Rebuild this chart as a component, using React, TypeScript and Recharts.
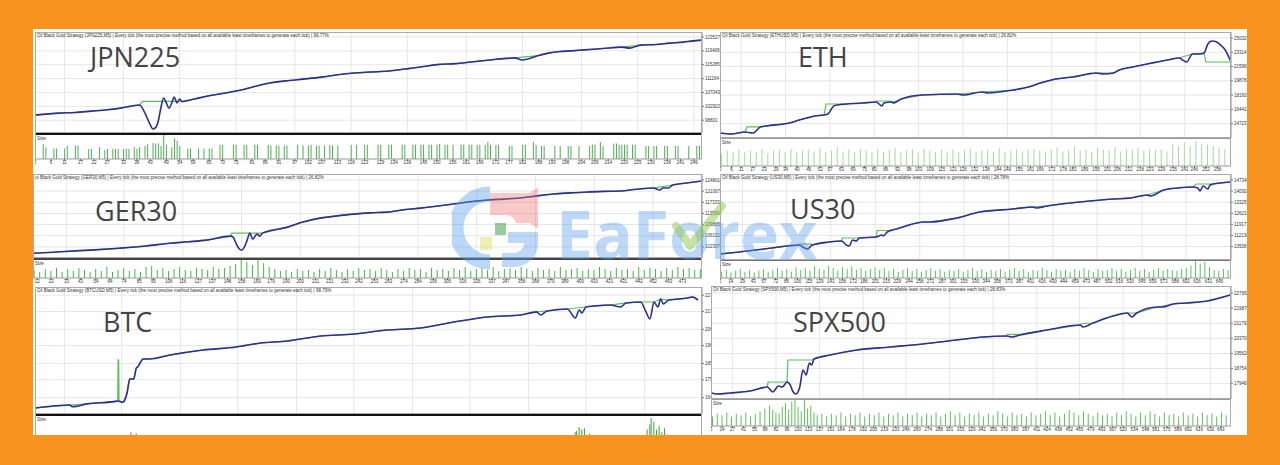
import { ComposedChart, Line, Bar, XAxis, YAxis, CartesianGrid } from "recharts";

type Pt = [number, number];

const ORANGE = "#F7931E";
const NAVY = "#2f2f8f";
const GREEN = "#5cbf5c";
const OX = 33;
const OY = 29;

// JPN225
const jpnBalance: Pt[] = [[0,100300],[9,100900],[15,101100],[21,101500],[27,101900],[32,102400],[39,103300],[41,101000],[43,97500],[44,96200],[45,96600],[46,98500],[47,102500],[48,105400],[49,104000],[50,102400],[51,103800],[52,105700],[53,103900],[54,105100],[55,104300],[56,104500],[60,105200],[64,105900],[69,106600],[76,107600],[82,108800],[88,109900],[95,110600],[100,111000],[107,111600],[113,112300],[119,112800],[125,113100],[132,113400],[138,114000],[144,114600],[150,115300],[157,115600],[163,116100],[170,116700],[175,117100],[179,117300],[182,116700],[184,117000],[188,118000],[192,118800],[196,119200],[200,119400],[205,119700],[212,120100],[219,120500],[222,120200],[226,121100],[232,121300],[237,121700],[242,122000],[245,122300],[249,122600]];
const jpnEquity: Pt[] = [[0,100300],[9,100900],[15,101100],[21,101500],[27,101900],[32,102400],[39,103300],[40,104400],[56,104400],[60,105200],[64,105900],[69,106600],[76,107600],[82,108800],[88,109900],[95,110600],[100,111000],[107,111600],[113,112300],[119,112800],[125,113100],[132,113400],[138,114000],[144,114600],[150,115300],[157,115600],[163,116100],[170,116700],[175,117100],[179,117300],[188,118000],[192,118800],[196,119200],[200,119400],[205,119700],[212,120100],[219,120500],[226,121100],[232,121300],[237,121700],[242,122000],[245,122300],[249,122600]];
const jpnVolume: Pt[] = [[3,57],[4,45],[7,40],[8,40],[11,40],[12,50],[15,52],[16,52],[20,38],[21,38],[24,45],[26,35],[27,38],[29,38],[30,38],[31,38],[33,38],[34,40],[35,38],[37,45],[38,38],[39,45],[41,50],[42,58],[44,62],[45,60],[46,60],[47,50],[48,95],[49,55],[51,45],[52,80],[53,70],[54,50],[57,40],[58,40],[61,40],[63,40],[65,40],[66,40],[69,55],[70,55],[74,55],[75,55],[78,55],[79,55],[82,55],[83,55],[87,55],[88,52],[90,52],[91,52],[93,52],[94,52],[98,55],[100,52],[102,52],[103,55],[105,52],[106,52],[108,52],[110,55],[111,52],[113,52],[118,55],[120,55],[123,55],[124,55],[128,55],[129,55],[132,55],[133,55],[137,55],[138,55],[141,55],[142,55],[144,55],[145,55],[147,55],[148,55],[150,55],[151,58],[153,55],[154,55],[156,55],[159,55],[160,55],[162,55],[163,55],[165,55],[166,55],[168,55],[169,65],[170,55],[172,55],[173,55],[177,50],[178,50],[182,55],[183,55],[186,65],[187,55],[189,50],[190,50],[194,50],[196,50],[199,50],[200,50],[203,50],[207,50],[208,55],[209,55],[211,65],[212,50],[216,60],[217,60],[218,55],[219,55],[220,55],[221,55],[223,55],[224,55],[228,50],[229,50],[231,50],[232,50],[235,50],[236,50],[239,50],[240,50],[244,50],[247,50],[248,50]];
const jpnYTicks = [123527, 119406, 115285, 111164, 107043, 102922, 98801];
const jpnXTicks = [0,6,11,17,22,27,33,38,43,49,54,59,65,70,75,81,86,91,97,102,107,113,118,123,129,134,139,145,150,156,161,166,172,177,182,188,193,198,204,209,214,220,225,230,236,241,246];

// ETH
const ethBalance: Pt[] = [[0,136000],[6,134800],[13,137200],[17,136000],[21,143300],[24,144500],[36,148000],[41,151600],[45,154000],[49,156500],[54,157700],[56,158900],[59,168500],[61,169700],[74,172100],[81,173300],[84,168500],[85,172100],[89,173300],[90,172100],[94,176900],[105,181700],[123,182900],[126,181700],[136,185300],[139,184100],[152,187700],[160,191300],[166,196100],[174,200900],[183,203400],[195,208200],[199,207000],[204,208200],[207,211800],[214,215400],[224,220200],[232,223800],[238,226200],[242,221400],[245,231000],[249,231000],[251,232200],[253,243100],[255,246700],[257,246100],[259,243100],[262,235800],[265,221400]];
const ethEquity: Pt[] = [[0,136000],[6,134800],[13,137200],[14,143300],[21,143300],[24,144500],[36,148000],[41,151600],[45,154000],[49,156500],[54,157700],[55,170900],[61,170900],[74,172100],[80,173300],[81,174500],[88,174500],[90,173300],[94,176900],[105,181700],[123,182900],[136,185300],[152,187700],[160,191300],[166,196100],[174,200900],[183,203400],[195,208200],[204,208200],[207,211800],[214,215400],[224,220200],[232,223800],[238,226200],[245,231000],[251,232200],[252,221400],[265,221400]];
const ethVolume: Pt[] = [[1,45],[4,55],[7,50],[10,60],[13,48],[16,55],[19,50],[22,62],[25,45],[28,55],[31,58],[34,50],[37,62],[40,48],[43,55],[46,60],[49,52],[52,65],[55,50],[58,55],[61,70],[64,52],[67,58],[70,48],[73,62],[76,55],[79,50],[82,60],[85,52],[88,58],[91,64],[94,50],[97,55],[100,60],[103,48],[106,62],[109,55],[112,50],[115,58],[118,52],[121,60],[124,48],[127,56],[130,62],[133,50],[136,55],[139,58],[142,52],[145,64],[148,50],[151,55],[154,60],[157,52],[160,58],[163,62],[166,55],[169,50],[172,60],[175,65],[178,52],[181,58],[184,70],[187,55],[190,60],[193,52],[196,66],[199,58],[202,55],[205,70],[208,52],[211,60],[214,58],[217,65],[220,55],[223,62],[226,58],[229,60],[232,52],[235,78],[238,70],[241,85],[244,72],[247,88],[250,80],[253,75],[256,72],[259,65],[262,60]];
const ethYTicks = [250329, 233147, 215965, 198783, 181601, 164419, 147237];
const ethXTicks = [0,6,11,17,23,29,34,40,46,52,57,63,69,75,80,86,92,98,103,109,115,121,126,132,138,144,149,155,161,166,172,178,183,189,195,201,206,212,218,223,229,235,241,246,252,258];

// GER30
const gerBalance: Pt[] = [[9,100273],[20,100500],[35,100945],[50,101300],[71,101953],[90,102700],[107,103633],[120,104100],[133,104641],[150,105985],[152,105649],[154,103633],[156,101900],[158,101281],[160,102289],[162,104641],[164,106993],[166,104977],[169,106657],[171,105985],[173,106993],[191,109009],[200,110500],[214,112033],[225,112700],[238,113377],[250,113800],[262,114049],[275,114900],[286,115393],[297,116000],[309,116737],[321,117500],[334,118081],[345,118400],[357,118753],[369,119500],[381,120097],[393,120500],[405,120769],[417,121000],[429,121105],[440,121700],[452,122113],[457,121441],[459,122113],[463,122113],[466,123121],[476,123800],[487,124465]];
const gerEquity: Pt[] = [[9,100273],[20,100500],[35,100945],[50,101300],[71,101953],[90,102700],[107,103633],[120,104100],[133,104641],[150,105985],[151,106993],[173,106993],[191,109009],[200,110500],[214,112033],[225,112700],[238,113377],[250,113800],[262,114049],[275,114900],[286,115393],[297,116000],[309,116737],[321,117500],[334,118081],[345,118400],[357,118753],[369,119500],[381,120097],[393,120500],[405,120769],[417,121000],[429,121105],[440,121700],[452,122113],[466,123121],[476,123800],[487,124465]];
const gerVolume: Pt[] = [[10,40],[14,30],[18,45],[22,35],[26,50],[30,30],[34,45],[38,35],[42,50],[46,40],[50,30],[54,45],[58,35],[62,55],[66,30],[70,40],[74,50],[78,35],[82,45],[86,30],[90,55],[94,60],[98,40],[102,50],[106,35],[110,45],[114,55],[118,40],[122,35],[126,50],[130,45],[134,40],[138,55],[142,45],[146,50],[150,60],[154,70],[158,95],[162,80],[166,65],[170,90],[174,75],[178,55],[182,45],[186,35],[190,40],[194,30],[198,45],[202,35],[206,40],[210,30],[214,45],[218,35],[222,50],[226,40],[230,30],[234,45],[238,35],[242,50],[246,40],[250,45],[254,35],[258,50],[262,40],[266,30],[270,45],[274,35],[278,50],[282,40],[286,45],[290,30],[294,50],[298,40],[302,45],[306,35],[310,50],[314,40],[318,55],[322,35],[326,45],[330,50],[334,40],[338,55],[342,35],[346,45],[350,50],[354,40],[358,55],[362,45],[366,35],[370,50],[374,40],[378,45],[382,35],[386,55],[390,40],[394,45],[398,50],[402,35],[406,45],[410,40],[414,55],[418,45],[422,35],[426,50],[430,40],[434,45],[438,35],[442,55],[446,40],[450,50],[454,45],[458,35],[462,50],[466,40],[470,55],[474,45],[478,50],[482,40],[486,45]];
const gerYTicks = [124801, 121067, 117333, 113599, 109865, 106131, 102397];
const gerXTicks = [12,22,33,43,54,64,74,85,95,106,116,127,137,148,158,169,179,190,200,211,221,232,242,253,263,274,284,295,305,316,326,337,347,358,368,379,389,400,410,421,431,442,452,463,473];

// US30
const usBalance: Pt[] = [[0,100392],[25,101661],[67,104199],[102,106102],[109,104199],[113,103564],[119,106102],[141,108006],[157,108641],[163,106102],[167,105467],[171,109275],[176,108641],[180,110544],[202,111179],[209,112448],[211,111813],[216,114351],[228,116255],[254,120062],[262,120696],[271,120696],[306,123234],[335,127041],[378,128945],[404,130214],[409,129579],[422,130848],[465,133386],[508,135289],[530,135924],[552,137828],[556,137193],[573,141000],[591,142269],[611,142904],[617,142269],[620,140366],[624,143538],[630,141635],[633,144173],[646,145442],[660,146076]];
const usEquity: Pt[] = [[0,100392],[25,101661],[67,104199],[102,106102],[103,106700],[118,106700],[119,106102],[141,108006],[157,108641],[158,110544],[180,110544],[202,111179],[203,115300],[216,115300],[228,116255],[254,120062],[262,120696],[271,120696],[306,123234],[335,127041],[378,128945],[404,130214],[422,130848],[465,133386],[508,135289],[530,135924],[552,137828],[573,141000],[591,142269],[611,142904],[615,144800],[633,144800],[646,145442],[660,146076]];
const usVolume: Pt[] = [[2,35],[8,45],[14,30],[20,40],[26,50],[32,35],[38,45],[44,30],[50,40],[56,50],[62,35],[68,45],[74,55],[80,40],[86,50],[92,35],[98,60],[104,45],[110,55],[116,40],[122,65],[128,50],[134,45],[140,70],[146,55],[152,40],[158,60],[164,50],[170,65],[176,45],[182,55],[188,40],[194,50],[200,60],[206,45],[212,55],[218,40],[224,50],[230,35],[236,45],[242,55],[248,40],[254,50],[260,35],[266,45],[272,55],[278,40],[284,50],[290,35],[296,45],[302,40],[308,50],[314,35],[320,45],[326,55],[332,40],[338,50],[344,35],[350,45],[356,40],[362,50],[368,35],[374,45],[380,55],[386,40],[392,50],[398,35],[404,45],[410,40],[416,55],[422,45],[428,35],[434,50],[440,40],[446,45],[452,35],[458,50],[464,40],[470,55],[476,45],[482,35],[488,50],[494,40],[500,45],[506,55],[512,40],[518,50],[524,35],[530,45],[536,55],[542,40],[548,50],[554,35],[560,45],[566,55],[572,40],[578,50],[584,45],[590,40],[596,50],[602,55],[608,70],[614,95],[620,80],[626,90],[632,60],[638,45],[644,40],[650,50],[656,45]];
const usYTicks = [147345, 140302, 133259, 126216, 119173, 112130, 105087];
const usXTicks = [0,14,29,43,57,72,86,100,115,129,143,158,172,186,201,215,229,244,258,272,287,301,315,330,344,358,373,387,401,416,430,444,459,473,487,502,516,530,545,559,573,588,602,616,631,645];

// BTC
const btcBalance: Pt[] = [[0,157.7],[26,159.5],[28,158.5],[39,160.2],[59,161.6],[62,162.0],[66,161.2],[69,166.9],[71,175.5],[74,175.5],[76,182.3],[77,182.9],[81,187.8],[86,187.8],[101,190.2],[126,193.3],[151,195.2],[169,197.6],[189,198.8],[214,201.9],[239,203.1],[264,205.6],[289,206.8],[314,210.5],[339,213.6],[364,214.8],[376,216.7],[379,214.8],[384,217.3],[399,218.5],[405,213.0],[408,217.9],[410,216.0],[413,219.7],[419,220.3],[431,220.9],[439,219.7],[443,222.2],[454,222.8],[458,216.7],[461,212.4],[464,222.8],[467,219.7],[469,224.6],[471,221.6],[475,224.0],[489,225.2],[493,225.9],[497,224.0]];
const btcEquity: Pt[] = [[0,157.7],[26,159.5],[39,160.2],[59,161.6],[62,162.0],[62.3,187.2],[62.7,187.2],[63,161.8],[66,161.2],[69,166.9],[71,175.5],[74,175.5],[76,182.3],[77,182.9],[81,187.8],[86,187.8],[101,190.2],[126,193.3],[151,195.2],[169,197.6],[189,198.8],[214,201.9],[239,203.1],[264,205.6],[289,206.8],[314,210.5],[339,213.6],[364,214.8],[376,216.7],[384,217.3],[399,218.5],[413,219.7],[419,220.3],[431,220.9],[443,222.2],[454,222.8],[464,222.8],[469,224.6],[475,224.0],[489,225.2],[493,225.9],[497,224.0]];
const btcVolume: Pt[] = [[70,15],[72,30],[74,20],[76,25],[405,30],[406,35],[408,50],[410,40],[412,45],[414,20],[416,25],[459,40],[461,60],[462,85],[464,70],[466,40],[468,55],[470,30],[472,45],[474,20]];
const btcYTicks = [227, 217, 206, 196, 185, 175, 164];
const btcXTicks = [0,11,22,33,43,54,65,76,87,98,109,120,130,141,152,163,174,185,196,206,217,228,239,250,261,272,283,293,304,315,326,337,348,359,370,380,391,402,413,424,435,446,457,467,478,489];

// SPX500
const spxBalance: Pt[] = [[0,174455],[8,173920],[24,174455],[49,175525],[71,177665],[78,174990],[85,178200],[90,177665],[96,180340],[100,178735],[103,175525],[107,173920],[112,177665],[116,186760],[120,184085],[124,190505],[127,189435],[130,192645],[150,194785],[184,197460],[226,199065],[267,200670],[310,202810],[343,204415],[373,204950],[380,204415],[390,205485],[424,208160],[466,210835],[469,209765],[482,211905],[507,215650],[525,217255],[531,215115],[537,217255],[563,220465],[570,220465],[583,222070],[600,222605],[626,223675],[655,226885]];
const spxEquity: Pt[] = [[0,174455],[8,173920],[24,174455],[49,175525],[71,177665],[72,180340],[96,180340],[97,192110],[127,192110],[130,192645],[150,194785],[184,197460],[226,199065],[267,200670],[310,202810],[343,204415],[373,204950],[374,205800],[390,205800],[424,208160],[466,210835],[467,211500],[482,211905],[507,215650],[525,217255],[537,217255],[563,220465],[583,222070],[600,222605],[626,223675],[655,226885]];
const spxVolume: Pt[] = [[2,35],[8,45],[14,40],[20,50],[26,35],[32,45],[38,40],[44,50],[50,35],[56,45],[62,55],[68,65],[74,75],[78,60],[82,50],[86,45],[90,70],[94,85],[98,60],[102,90],[106,100],[110,70],[114,55],[118,95],[122,65],[126,75],[130,50],[134,40],[140,45],[146,35],[152,45],[158,40],[164,50],[170,35],[176,45],[182,40],[188,50],[194,35],[200,45],[206,40],[212,50],[218,35],[224,45],[230,40],[236,50],[242,35],[248,45],[254,40],[260,50],[266,35],[272,45],[278,40],[284,50],[290,35],[296,45],[302,55],[308,40],[314,50],[320,35],[326,45],[332,40],[338,50],[344,35],[350,45],[356,40],[362,55],[368,45],[374,35],[380,50],[386,40],[392,45],[398,35],[404,50],[410,40],[416,45],[422,55],[428,40],[434,50],[440,35],[446,45],[452,60],[458,50],[464,40],[470,55],[476,45],[482,35],[488,50],[494,40],[500,45],[506,35],[512,50],[518,40],[524,55],[530,45],[536,35],[542,50],[548,40],[554,55],[560,45],[566,35],[572,50],[578,40],[584,45],[590,35],[596,50],[602,40],[608,45],[614,35],[620,50],[626,40],[632,45],[638,35],[644,50],[650,40]];
const spxYTicks = [227958, 219875, 211792, 203709, 195626, 187543, 179460];
const spxXTicks = [0,14,27,41,55,68,82,96,110,123,137,151,164,178,192,205,219,233,246,260,274,288,301,315,329,342,356,370,383,397,411,424,438,452,465,479,493,507,520,534,548,561,575,589,602,616,630,643];

const TINY = { fontSize: 4.5, fill: "#333", fontFamily: "Liberation Sans, Arial, sans-serif" };

interface PanelProps {
  x: number; y: number; w: number; mainH: number; volH: number; axisW: number;
  xDomain: [number, number]; yDomain: [number, number];
  yTicks: number[]; xTicks: number[];
  balance: Pt[]; equity: Pt[]; volume: Pt[];
  volColor: string; sepColor: string; sepW: number; title: string;
}

function Panel(p: PanelProps) {
  const bal = p.balance.map(([t, v]) => ({ t, v }));
  const eq = p.equity.map(([t, v]) => ({ t, v }));
  const vol = p.volume.map(([t, v]) => ({ t, v }));
  const grid = p.xTicks.filter((_, i) => i % 4 === 2);
  const full = p.w + p.axisW;
  return (
    <div style={{ position: "absolute", left: p.x - OX, top: p.y - OY, width: full, height: p.mainH + p.volH + 9, background: "#fff" }}>
      <ComposedChart width={full} height={p.mainH} margin={{ top: 0, right: 0, bottom: 0, left: 0 }}>
        <CartesianGrid stroke="#e6e6e6" />
        <XAxis type="number" dataKey="t" domain={p.xDomain} ticks={grid} hide allowDataOverflow />
        <YAxis orientation="right" width={p.axisW} domain={p.yDomain} ticks={p.yTicks} interval={0} allowDataOverflow
          tick={TINY} tickSize={2} tickMargin={1} tickLine={{ stroke: "#777" }} axisLine={{ stroke: "#999" }} />
        <Line data={eq} dataKey="v" type="linear" stroke={GREEN} strokeWidth={1.2} dot={false} isAnimationActive={false} />
        <Line data={bal} dataKey="v" type="monotone" stroke={NAVY} strokeWidth={1.6} dot={false} isAnimationActive={false} />
      </ComposedChart>
      <div style={{ position: "absolute", left: 0, top: 0, width: p.w, height: p.mainH, border: "1px solid #aaa", boxSizing: "border-box", pointerEvents: "none" }} />
      <div style={{ position: "absolute", left: 2, top: 1, fontSize: 4.5, lineHeight: "5px", color: "#333", whiteSpace: "nowrap" }}>{p.title}</div>
      <div style={{ position: "absolute", left: 0, top: p.mainH }}>
        <ComposedChart width={full} height={p.volH + 9} data={vol} margin={{ top: 0, right: p.axisW, bottom: 0, left: 0 }}>
          <XAxis type="number" dataKey="t" domain={p.xDomain} ticks={p.xTicks} interval={0} allowDataOverflow height={9}
            tick={TINY} tickSize={2} tickMargin={0} tickLine={{ stroke: "#777" }} axisLine={{ stroke: "#999" }} />
          <YAxis hide domain={[0, 100]} allowDataOverflow />
          <Bar dataKey="v" fill={p.volColor} barSize={1} isAnimationActive={false} />
        </ComposedChart>
        <div style={{ position: "absolute", left: 0, top: 0, width: p.w, height: p.sepW, background: p.sepColor }} />
        <div style={{ position: "absolute", left: 0, top: 0, width: p.w, height: p.volH, borderLeft: "1px solid #aaa", borderRight: "1px solid #aaa", boxSizing: "border-box" }} />
        <div style={{ position: "absolute", left: 2, top: p.sepW + 1, fontSize: 4.5, lineHeight: "5px", color: "#333" }}>Size</div>
      </div>
    </div>
  );
}

function Name({ text, x, capTop }: { text: string; x: number; capTop: number }) {
  return (
    <div style={{ position: "absolute", left: x - OX, top: capTop - OY - 5, fontFamily: "Open Sans", fontSize: 27, lineHeight: "27px", color: "#444", whiteSpace: "nowrap" }}>
      {text}
    </div>
  );
}

function Watermark() {
  return (
    <>
      <svg style={{ position: "absolute", left: 452 - OX, top: 185 - OY }} width={100} height={90}>
        <path d="M 38 9 A 33 33 0 0 0 38 77" fill="none" stroke="rgba(90,160,235,0.42)" strokeWidth={15} />
        <path d="M 38 8 L 78 8 L 86 2 L 86 44 L 78 38 L 64 38 A 10 10 0 0 0 54 30 L 38 30 Z" fill="rgba(240,120,120,0.4)" />
        <rect x={43} y={38} width={11} height={12} fill="rgba(70,160,80,0.55)" />
        <rect x={28} y={52} width={12} height={13} fill="rgba(215,225,110,0.5)" />
        <path d="M 56 47 L 86 47 L 86 58 A 24 24 0 0 1 62 82 L 50 82 L 50 68 L 62 68 A 10 10 0 0 0 72 58 L 56 58 Z" fill="rgba(90,160,235,0.4)" />
      </svg>
      <div style={{ position: "absolute", left: 556 - OX, top: 200 - OY, fontFamily: "Open Sans", fontWeight: 700, fontSize: 66, lineHeight: "66px", color: "rgba(90,160,235,0.4)", whiteSpace: "nowrap" }}>
        EaForex
      </div>
      <svg style={{ position: "absolute", left: 668 - OX, top: 198 - OY }} width={60} height={56}>
        <path d="M 8 28 L 22 48 L 54 8" fill="none" stroke="rgba(140,200,80,0.5)" strokeWidth={8} strokeLinecap="round" strokeLinejoin="round" />
      </svg>
    </>
  );
}

const TAIL = "| Every tick (the most precise method based on all available least timeframes to generate each tick) |";

export default function App() {
  return (
    <div style={{ position: "absolute", left: 0, top: 0, width: 1280, height: 465, background: ORANGE, overflow: "hidden", fontFamily: "Liberation Sans, Arial, sans-serif" }}>
      <div style={{ position: "absolute", left: OX, top: OY, width: 1247 - OX, height: 435 - OY, background: "#fff", overflow: "hidden" }}>
        <Panel x={35} y={32} w={667} mainH={101} volH={26} axisW={18} xDomain={[0, 249]} yDomain={[95000, 125000]}
          yTicks={jpnYTicks} xTicks={jpnXTicks} balance={jpnBalance} equity={jpnEquity} volume={jpnVolume}
          volColor="#4caf50" sepColor="#111" sepW={2} title={`Oil Black Gold Strategy (JPN225,M5) ${TAIL} 99.77%`} />
        <Panel x={33} y={174} w={669} mainH={84} volH={20} axisW={18} xDomain={[9, 487]} yDomain={[98663, 126817]}
          yTicks={gerYTicks} xTicks={gerXTicks} balance={gerBalance} equity={gerEquity} volume={gerVolume}
          volColor="#45b545" sepColor="#444" sepW={2} title={`ut Black Gold Strategy (GER30,M5) ${TAIL} 26.82%`} />
        <Panel x={35} y={287} w={667} mainH={127} volH={26} axisW={12} xDomain={[0, 500]} yDomain={[154, 232]}
          yTicks={btcYTicks} xTicks={btcXTicks} balance={btcBalance} equity={btcEquity} volume={btcVolume}
          volColor="#3aa83a" sepColor="#111" sepW={2} title={`Oil Black Gold Strategy (BTCUSD,M5) ${TAIL} 98.79%`} />
        <Panel x={720} y={32} w={511} mainH={106} volH={28} axisW={16} xDomain={[0, 265]} yDomain={[130000, 257500]}
          yTicks={ethYTicks} xTicks={ethXTicks} balance={ethBalance} equity={ethEquity} volume={ethVolume}
          volColor="#a6d9a0" sepColor="#999" sepW={1} title={`Oil Black Gold Strategy (ETHUSD,M5) ${TAIL} 26.82%`} />
        <Panel x={720} y={174} w={511} mainH={86} volH={18} axisW={16} xDomain={[0, 660]} yDomain={[96585, 151152]}
          yTicks={usYTicks} xTicks={usXTicks} balance={usBalance} equity={usEquity} volume={usVolume}
          volColor="#5cc05c" sepColor="#777" sepW={1} title={`Oil Black Gold Strategy (US30,M5) ${TAIL} 28.78%`} />
        <Panel x={711} y={286} w={520} mainH={113} volH={27} axisW={16} xDomain={[0, 656]} yDomain={[171245, 231700]}
          yTicks={spxYTicks} xTicks={spxXTicks} balance={spxBalance} equity={spxEquity} volume={spxVolume}
          volColor="#5cc05c" sepColor="#999" sepW={1} title={`Oil Black Gold Strategy (SPX500,M5) ${TAIL} 26.83%`} />
        <Name text="JPN225" x={90} capTop={48} />
        <Name text="ETH" x={798} capTop={48} />
        <Name text="GER30" x={95} capTop={202} />
        <Name text="US30" x={790} capTop={200} />
        <Name text="BTC" x={103} capTop={313} />
        <Name text="SPX500" x={793} capTop={313} />
        <Watermark />
      </div>
    </div>
  );
}
